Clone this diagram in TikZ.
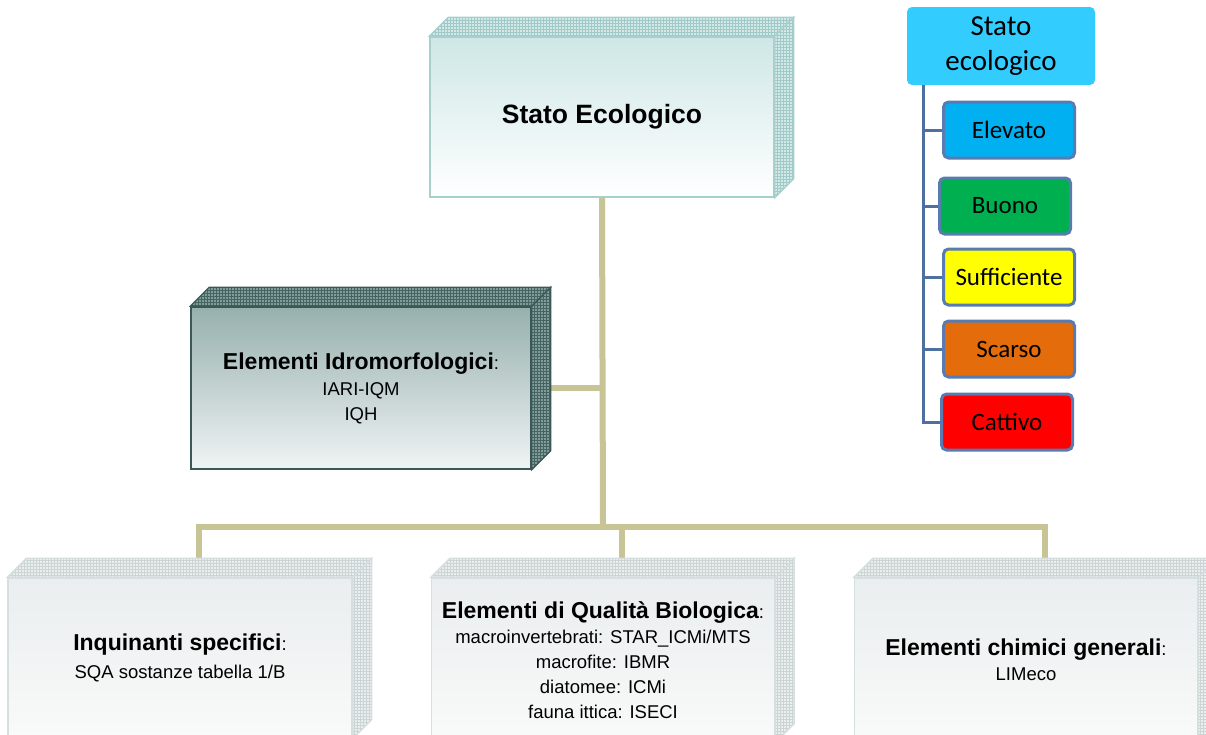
\documentclass[tikz,border=0pt]{standalone}
\usepackage{fontspec}
\setmainfont{Liberation Sans}
\newfontfamily\legfont{Carlito}
\usetikzlibrary{patterns,backgrounds}

\definecolor{linkcol}{RGB}{199,196,150}
\definecolor{treecol}{RGB}{78,112,160}
\definecolor{ecotop}{RGB}{206,231,230}
\definecolor{ecoborder}{RGB}{168,207,204}
\definecolor{ecoside}{RGB}{212,233,231}
\definecolor{ecogrid}{RGB}{160,202,199}
\definecolor{idrotop}{RGB}{150,176,174}
\definecolor{idrobot}{RGB}{240,244,244}
\definecolor{idroborder}{RGB}{58,88,86}
\definecolor{idroside}{RGB}{130,156,154}
\definecolor{idrogrid}{RGB}{70,100,98}
\definecolor{lowtop}{RGB}{234,238,238}
\definecolor{lowbot}{RGB}{249,250,250}
\definecolor{lowborder}{RGB}{214,223,223}
\definecolor{lowside}{RGB}{234,238,238}
\definecolor{lowgrid}{RGB}{204,212,212}
\definecolor{hdrcol}{RGB}{51,204,255}
\definecolor{elevcol}{RGB}{0,176,240}
\definecolor{buoncol}{RGB}{0,176,80}
\definecolor{suffcol}{RGB}{255,255,0}
\definecolor{scarcol}{RGB}{228,108,10}
\definecolor{cattcol}{RGB}{255,0,0}
\definecolor{itemborder}{RGB}{88,124,178}

\newcommand\headfont{\fontsize{23}{29}\selectfont\bfseries}
\newcommand\linefont{\fontsize{18.5}{25}\selectfont}

% top and right faces of a box
\newcommand\boxsides[2]{%
  \draw[#2] (#1.north west) -- ++(19,-19) -- ([shift={(19,-19)}]#1.north east) -- (#1.north east) -- cycle;
  \draw[#2] (#1.north east) -- ([shift={(19,-19)}]#1.north east) -- ([shift={(19,-19)}]#1.south east) -- (#1.south east) -- cycle;
}

\begin{document}
\begin{tikzpicture}[x=1pt,y=-1pt,
    front/.style={rectangle,inner sep=0pt,align=center,line width=1.5pt,font=\linefont},
    ecofront/.style={front,draw=ecoborder,top color=ecotop,bottom color=white},
    ecoface/.style={draw=ecoborder,line width=1.2pt,preaction={fill=ecoside},pattern=grid,pattern color=ecogrid},
    idrofront/.style={front,draw=idroborder,top color=idrotop,bottom color=idrobot},
    idroface/.style={draw=idroborder,line width=1.2pt,preaction={fill=idroside},pattern=grid,pattern color=idrogrid},
    lowfront/.style={front,draw=lowborder,top color=lowtop,bottom color=lowbot},
    lowface/.style={draw=lowborder,line width=1.2pt,preaction={fill=lowside},pattern=grid,pattern color=lowgrid},
    link/.style={draw=linkcol,line width=6pt},
    hdr/.style={rectangle,rounded corners=5pt,fill=hdrcol,minimum width=188pt,minimum height=78pt,
      align=center,font=\legfont\fontsize{29}{35}\selectfont},
    level/.style={rectangle,rounded corners=5pt,draw=itemborder,line width=3pt,minimum width=131pt,
      minimum height=56pt,font=\legfont\fontsize{25}{28}\selectfont},
    tree/.style={draw=treecol,line width=3pt}]
\clip (0,0) rectangle (1206,734);

% main boxes
\node[ecofront,minimum width=344pt,minimum height=160pt] (stato) at (602,117)
  {\fontsize{26.5}{30}\selectfont\bfseries Stato Ecologico};
\boxsides{stato}{ecoface}

\node[idrofront,minimum width=340pt,minimum height=162pt] (idro) at (361,388)
  {{\headfont Elementi Idromorfologici}:\\[1pt] IARI-IQM\\ IQH};
\boxsides{idro}{idroface}

\node[lowfront,minimum width=344pt,minimum height=160pt] (inq) at (180,658)
  {{\headfont Inquinanti specifici}:\\[3pt] SQA sostanze tabella 1/B};
\boxsides{inq}{lowface}

\node[lowfront,minimum width=343pt,minimum height=164pt] (bio) at (603,660)
  {{\headfont Elementi di Qualità Biologica}:\\ macroinvertebrati: STAR\_ICMi/MTS\\ macrofite: IBMR\\
   diatomee: ICMi\\ fauna ittica: ISECI};
\boxsides{bio}{lowface}

\node[lowfront,minimum width=343pt,minimum height=164pt] (chi) at (1026,660)
  {{\headfont Elementi chimici generali}:\\ LIMeco};
\boxsides{chi}{lowface}

\coordinate (inq-top) at ([shift={(19,-19)}]inq.north);
\coordinate (bio-top) at ([shift={(19,-19)}]bio.north);
\coordinate (chi-top) at ([shift={(19,-19)}]chi.north);
\coordinate (split) at (603,527);

\begin{pgfonlayer}{background}
  \fill[white] (0,0) rectangle (1206,734);
  \draw[link] (stato.south) -- (split);
  \draw[link] (idro.east) -- (idro.east -| split);
  \draw[link] (inq-top) |- (split) -| (chi-top);
  \draw[link] (bio-top) -- (bio-top |- split);
\end{pgfonlayer}

% legend
\node[hdr] (leg) at (1001,46) {Stato\\ecologico};
\node[level,fill=elevcol] (elev) at (1009,130) {Elevato};
\node[level,fill=buoncol] (buon) at (1005,206) {Buono};
\node[level,fill=suffcol] (suff) at (1009,277) {Sufficiente};
\node[level,fill=scarcol] (scar) at (1009,349) {Scarso};
\node[level,fill=cattcol] (catt) at (1007,422) {Cattivo};
\coordinate (trunk) at ([xshift=17pt]leg.south west);
\draw[tree] (trunk) |- (catt.west);
\foreach \lv in {elev,buon,suff,scar}
  \draw[tree] (trunk |- \lv.west) -- (\lv.west);
\end{tikzpicture}
\end{document}
